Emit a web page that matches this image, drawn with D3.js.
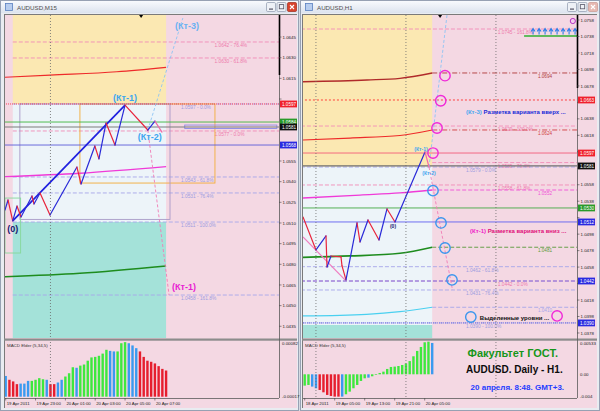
<!DOCTYPE html>
<html><head><meta charset="utf-8">
<script src="https://cdnjs.cloudflare.com/ajax/libs/d3/7.8.5/d3.min.js"></script>
<style>
html,body{margin:0;padding:0;background:#d6dae2;}
svg{display:block;font-family:"Liberation Sans",Arial,sans-serif;}
</style></head><body>
<svg id="chart" width="600" height="411"></svg>
<script>
// ===================== DATA : left window, AUDUSD M15 =====================
const m15Title = "AUDUSD,M15";
const m15TimeTicks  = [0, 8, 16, 24, 32, 40];
const m15TimeLabels = ["19 Apr 2011","19 Apr 23:00","20 Apr 01:00","20 Apr 03:00","20 Apr 05:00","20 Apr 07:00"];
const m15DaySeparators = [12];
const m15PriceTicks = [1.0645,1.0630,1.0615,1.0600,1.0555,1.0540,1.0525,1.0510,1.0495,1.0480,1.0465,1.0450,1.0435];
const m15MacdTicks = [0.00082,-0.00017];
const m15MacdTickText = ["0.00082","-0.00017"];
const m15Macd = [0.00021,0.00014,0.00011,0.00006,0.00007,0.00007,0.00012,0.00012,0.00014,0.00017,0.00015,0.00014,0.00006,0.00006,0.00009,0.00014,0.00020,0.00026,0.00037,0.00036,0.00040,0.00042,0.00049,0.00055,0.00056,0.00058,0.00062,0.00069,0.00067,0.00066,0.00066,0.00081,0.00083,0.00081,0.00077,0.00072,0.00066,0.00056,0.00049,0.00047,0.00044,0.00039,0.00034,0.00031];
const m15MacdState = "brrrbbbggggbrrbbgggbggggggggbbgggbbbrrrrrrrr";
// zigzag price path [bar index, price]
const m15Path = [[-0.19,1.05194],[0.62,1.05267],[1.88,1.05115],[3.03,1.05223],[4.10,1.05144],[7.05,1.05296],[7.59,1.05238],[9.20,1.05318],[11.88,1.05158],[19.1,1.05506],[20.2,1.05383],[23.9,1.05659],[25.0,1.05565],[26.9,1.05826],[29.3,1.05666],[32.0,1.05956],[38.1,1.05775],[40.0,1.05840],[41.9,1.05760]];
const m15ZeroKt1Kt2 = [2, 15, 16];
const m15MaRed     = [[-0.2,1.06158],[11.9,1.06174],[29.8,1.06198],[43,1.06230]];
const m15MaMagenta = [[-0.2,1.05436],[19.9,1.05461],[43,1.05509]];
const m15MaGreen   = [[-0.2,1.04710],[19.9,1.04735],[43,1.04788]];
const m15FiboPink     = [1.06414,1.06298,1.05768];
const m15FiboPinkText = ["1.0642 - 76.4%","1.0630 - 61.8%","1.0577 - 0.0%"];
const m15FiboLilac     = [1.05964,1.05434,1.05318,1.05107,1.04577];
const m15FiboLilacText = ["1.0597 - 0.0%","1.0543 - 61.8%","1.0531 - 76.4%","1.0511 - 100.0%","1.0458 - 161.8%"];
const m15Lines     = [1.05964,1.05833,1.05797,1.05666];
const m15LineText  = ["1.0597","1.0584","1.0581","1.0568"];
const m15Zones = [[1.9,43,1.0661,1.05964],[1.9,43,1.05964,1.05107],[1.9,43,1.05107,1.04265]];
const m15Boxes = [[19.9,56.1,1.05964,1.05390],[3.8,44.05,1.05964,1.05126],[-0.2,4.0,1.05281,1.04882],[48,72.7,1.05811,1.05786]];
const m15Projections = [[47.5,1.06588],[43.8,1.04577]];
const m15Notes   = ["(Кт-3)","(Кт-1)"];
const m15NoteAt  = [[48.6,1.0653],[47.8,1.04636]];

// ===================== DATA : right window, AUDUSD H1 =====================
const h1Title = "AUDUSD,H1";
const h1TimeTicks  = [0, 8, 16, 24, 32];
const h1TimeLabels = ["18 Apr 2011","19 Apr 05:00","19 Apr 13:00","19 Apr 21:00","20 Apr 05:00"];
const h1DaySeparators = [3, 27, 51];
const h1PriceTicks = [1.0758,1.0738,1.0718,1.0698,1.0678,1.0658,1.0638,1.0618,1.0598,1.0578,1.0558,1.0538,1.0518,1.0498,1.0478,1.0458,1.0438,1.0418,1.0398,1.0378];
const h1MacdTicks = [0.00533,0,-0.004];
const h1MacdTickText = ["0.00533","0.00","-0.004"];
const h1Macd = [-0.00189,-0.00178,-0.00205,-0.00233,-0.00261,-0.00300,-0.00344,-0.00361,-0.00372,-0.00372,-0.00372,-0.00333,-0.00289,-0.00233,-0.00178,-0.00111,-0.00067,-0.00056,-0.00033,-0.00011,0.00022,0.00044,0.00089,0.00122,0.00128,0.00138,0.00155,0.00180,0.00220,0.00300,0.00389,0.00455,0.00533,0.00544,0.00522];
const h1MacdState = "ggbbrrrrrrbggggggbggggggggggggggggb";
const h1Path = [[-0.45,1.05188],[3.01,1.04788],[5.68,1.04958],[5.95,1.04581],[7.01,1.04715],[9.68,1.04703],[9.95,1.04594],[11.01,1.04424],[13.95,1.05116],[14.75,1.04885],[16.88,1.05152],[19.81,1.04909],[21.95,1.05286],[24.08,1.05128],[32.08,1.05978],[33.15,1.05795]];
const h1ZeroKt1Kt2 = [13, 14, 15];
const h1TrendPink = [[-0.45,1.04946],[10.75,1.04424]];
const h1MaDarkRed = [[-0.45,1.06831],[16.6,1.06852],[25.4,1.06872],[34,1.06937]];
const h1MaRed     = [[-0.45,1.06123],[12.1,1.06147],[25.4,1.06178],[34,1.06245]];
const h1MaMagenta = [[-0.45,1.05419],[14.75,1.05455],[25.4,1.05480],[34,1.05516]];
const h1MaGreen   = [[-0.45,1.04699],[12.1,1.04715],[25.4,1.04748],[34,1.04821]];
const h1MaCyan    = [[-0.45,1.03987],[16.5,1.04007],[25.4,1.04039],[34,1.04092]];
const h1MaEndText = ["1.0694","1.0624","1.0552","1.0481","1.0410"];
const h1FiboPink     = [1.07471,1.06293,1.05849,1.05577,1.04411];
const h1FiboPinkText = ["1.0745 - 161.8%","1.0629 - 100.0%","1.0585 - 76.4%","1.0558 - 61.8%","1.0442 - 0.0%"];
const h1FiboLilac     = [1.05795,1.04585,1.04302,1.03902];
const h1FiboLilacText = ["1.0579 - 0.0%","1.0462 - 61.8%","1.0431 - 76.4%","1.0390 - 100.0%"];
const h1Lines    = [1.06609,1.05965,1.05808,1.05298,1.05128,1.04411,1.03902];
const h1LineText = ["1.0663","1.0597","1.0581","1.0530","1.0512","1.0442","1.0390"];
const h1Zones = [[-0.45,34,1.07641,1.05800],[-0.45,34,1.05800,1.03877],[-0.45,34,1.03877,1.03719]];
const h1CirclesUp   = [[37.41,1.06904],[36.27,1.06600],[35.28,1.06269],[34.21,1.05965]];
const h1CirclesDown = [[34.21,1.05508],[36.35,1.05116],[37.41,1.04812],[39.28,1.04424]];
const h1Projections = [[37.95,1.07641],[39.41,1.04302]];
const h1TargetLevel = 1.07386;
const h1TargetSpan  = [58.5, 73];
const h1TargetArrows = [60.9,62.5,64.1,65.7,67.3,68.9,70.5,72.1];
const h1Notes = ["Разметка варианта вверх ...","Разметка варианта вниз ...","Выделенные уровни ..."];
const h1NoteTags = ["(Кт-3) ","(Кт-1) ",""];
const h1NoteAt = [[43,1.06463],[44.1,1.05018],[46.7,1.03962]];
const h1LegendCircles = [[44.3,1.03974],[67.3,1.03987]];
const h1Caption = ["Факультет ГОСТ.","AUDUSD. Daily - H1.","20 апреля. 8:48. GMT+3."];
const h1CaptionAt = [[55.5,0.00355],[55.9,0.00088],[56.7,-0.00212]];

// ===================== DRAWING =====================
const svg = d3.select("#chart");
const defs = svg.append("defs");
const tg = defs.append("linearGradient").attr("id","gTitle").attr("x1",0).attr("y1",0).attr("x2",0).attr("y2",1);
tg.append("stop").attr("offset",0).attr("stop-color","#f8fafd");
tg.append("stop").attr("offset",1).attr("stop-color","#dce3ee");

const COL = {up:"#2a2ad8", down:"#e8243c", pink:"#f06aa8", g:"#3ee83e", r:"#e61e2e", b:"#3a9af0",
  fibPink:"#f28cb8", fibLilac:"#a6a6ea", kt:"#3ea6f0", mag:"#f020c8"};
const BG = {pink:"#f4d8e3", yellow:"#fbe8b2", light:"#edf4f9", teal:"#a4e2d9"};

function frame(wx, ww, title, active){
  const g = svg.append("g");
  g.append("rect").attr("x",wx+0.5).attr("y",0.5).attr("width",ww-1).attr("height",410).attr("fill","#e9ecf1").attr("stroke","#97a1b3");
  g.append("rect").attr("x",wx+1).attr("y",1).attr("width",ww-2).attr("height",12).attr("fill","url(#gTitle)");
  g.append("rect").attr("x",wx+5.5).attr("y",3.5).attr("width",7).attr("height",7).attr("fill","#b7cdef").attr("stroke","#5a80c0").attr("stroke-width",0.8);
  g.append("text").attr("x",wx+17).attr("y",9.6).attr("font-size",6.2).attr("fill","#505050").text(title);
  const bx = wx+ww-33;
  [0,1,2].forEach(k=>{
    const x = bx + k*10.5;
    const close = k===2;
    g.append("rect").attr("x",x+0.5).attr("y",2.5).attr("width",9).attr("height",9).attr("rx",1.2)
      .attr("fill", close ? (active?"#d9442e":"#e7b9b2") : "#eef1f6").attr("stroke", close?(active?"#9c2a1a":"#c89890"):"#8c98ac").attr("stroke-width",0.7);
    if(k===0) g.append("rect").attr("x",x+3).attr("y",8.5).attr("width",4).attr("height",1.2).attr("fill","#556");
    if(k===1) g.append("rect").attr("x",x+2.8).attr("y",4.6).attr("width",4.4).attr("height",4.2).attr("fill","none").attr("stroke","#556").attr("stroke-width",0.8);
    if(close){ g.append("path").attr("d",`M${x+3},${5} L${x+7},${9} M${x+7},${5} L${x+3},${9}`).attr("stroke","#fff").attr("stroke-width",1.1); }
  });
  return g;
}

function chart(c){
  const X = c.x, Y = c.y, M = c.m;
  const g = svg.append("g");
  g.append("rect").attr("x",c.cl).attr("y",14).attr("width",c.cr-c.cl).attr("height",394).attr("fill",BG.pink);
  g.append("line").attr("x1",c.cl+0.5).attr("x2",c.cl+0.5).attr("y1",14).attr("y2",408).attr("stroke","#7a7a7a");
  g.append("line").attr("x1",c.cl).attr("x2",c.cr).attr("y1",14.5).attr("y2",14.5).attr("stroke","#7a7a7a");
  const idm = "cm"+c.id, ids = "cs"+c.id;
  defs.append("clipPath").attr("id",idm).append("rect").attr("x",c.pl).attr("y",15).attr("width",c.pr-c.pl).attr("height",323);
  defs.append("clipPath").attr("id",ids).append("rect").attr("x",c.pl).attr("y",341).attr("width",c.pr-c.pl).attr("height",57);
  const m = g.append("g").attr("clip-path",`url(#${idm})`);
  const s = g.append("g").attr("clip-path",`url(#${ids})`);
  const zf = [BG.yellow, BG.light, BG.teal];
  m.selectAll(null).data(c.zones).join("rect")
    .attr("x",d=>X(d[0])).attr("width",d=>X(d[1])-X(d[0]))
    .attr("y",d=>Y(d[2])).attr("height",d=>Y(d[3])-Y(d[2])).attr("fill",(d,i)=>zf[i]);
  c.days.forEach(d=>{
    g.append("line").attr("x1",X(d)).attr("x2",X(d)).attr("y1",15).attr("y2",398).attr("stroke","#6a6a6a").attr("stroke-dasharray","1,2").attr("stroke-width",0.8);
  });
  g.append("rect").attr("x",c.cl).attr("y",338.5).attr("width",c.cr-c.cl).attr("height",2.2).attr("fill","#8c8c8c");
  g.append("line").attr("x1",c.pr+0.5).attr("x2",c.pr+0.5).attr("y1",15).attr("y2",398).attr("stroke","#5a5a5a").attr("stroke-width",0.8);
  g.append("line").attr("x1",c.pr+0.5).attr("x2",c.pr+0.5).attr("y1",15).attr("y2",c.blackTo).attr("stroke","#000").attr("stroke-width",1.6);
  g.append("line").attr("x1",c.pl).attr("x2",c.pr).attr("y1",398.5).attr("y2",398.5).attr("stroke","#5a5a5a").attr("stroke-width",0.8);
  c.ticks.forEach(p=>{
    g.append("line").attr("x1",c.pr).attr("x2",c.pr+2.5).attr("y1",Y(p)).attr("y2",Y(p)).attr("stroke","#444").attr("stroke-width",0.6);
    const clash = c.boxLevels.some(b=>Math.abs(Y(b)-Y(p))<5.5);
    if(!clash) g.append("text").attr("x",c.pr+3.5).attr("y",Y(p)+1.6).attr("font-size",4.4).attr("fill","#222").text(p.toFixed(4));
  });
  c.tTicks.forEach((t,i)=>{
    g.append("line").attr("x1",X(t)).attr("x2",X(t)).attr("y1",398).attr("y2",400.5).attr("stroke","#444").attr("stroke-width",0.6);
    g.append("text").attr("x",X(t)+1).attr("y",405).attr("font-size",4.3).attr("fill","#222").text(c.tLabels[i]);
  });
  s.selectAll(null).data(c.macd).join("rect")
    .attr("x",(d,i)=>X(i)-1.2).attr("width",2.4)
    .attr("y",d=>Math.min(M(d),M(c.mBase))).attr("height",d=>Math.abs(M(d)-M(c.mBase)))
    .attr("fill",(d,i)=>COL[c.mState[i]]);
  g.append("text").attr("x",c.pl+2).attr("y",347).attr("font-size",4.4).attr("fill","#333").text("MACD Elder (5,34,5)");
  c.mTicks.forEach((v,i)=>{
    g.append("text").attr("x",c.pr+3).attr("y",Math.min(Math.max(M(v)+1.6,345),398)).attr("font-size",4.4).attr("fill","#222").text(c.mTickText[i]);
  });
  g.append("path").attr("d",`M${X(c.shift)-2},15 L${X(c.shift)+2},15 L${X(c.shift)},18 Z`).attr("fill","#000");
  return {g, m, s};
}

function hline(m, X, Y, p, i0, i1, color, dash, w){
  m.append("line").attr("x1",X(i0)).attr("x2",X(i1)).attr("y1",Y(p)).attr("y2",Y(p))
    .attr("stroke",color).attr("stroke-width",w||0.9).attr("stroke-dasharray",dash||null);
}
function pathSegs(m, X, Y, pts, pinkFrom){
  for(let k=0;k<pts.length-1;k++){
    const a=pts[k], b=pts[k+1];
    let col = b[1]>a[1] ? COL.up : COL.down;
    if(k>=pinkFrom) col = COL.pink;
    m.append("line").attr("x1",X(a[0])).attr("y1",Y(a[1])).attr("x2",X(b[0])).attr("y2",Y(b[1]))
      .attr("stroke",col).attr("stroke-width",1.2).attr("stroke-linecap","round");
  }
}
function axisBox(g, x0, Y, p, txt, fill){
  g.append("rect").attr("x",x0+1).attr("y",Y(p)-3.4).attr("width",17).attr("height",6.8).attr("fill",fill);
  g.append("text").attr("x",x0+3).attr("y",Y(p)+1.7).attr("font-size",4.6).attr("fill","#fff").text(txt);
}

// ---------- left window ----------
frame(0, 299, m15Title, true);
const xL = d3.scaleLinear().domain([0,73.3]).range([5.7,279.1]);
const yL = d3.scaleLinear().domain([1.04265,1.06610]).range([338,15]);
const mL = d3.scaleLinear().domain([-0.00017,0.00082]).range([396.7,342.7]);
const L = chart({id:"L", x:xL, y:yL, m:mL, cl:4, cr:297, pl:5, pr:279, blackTo:75,
  zones:m15Zones, days:m15DaySeparators, ticks:m15PriceTicks, tTicks:m15TimeTicks, tLabels:m15TimeLabels, boxLevels:m15Lines,
  macd:m15Macd, mState:m15MacdState, mBase:-0.00017, mTicks:m15MacdTicks, mTickText:m15MacdTickText, shift:36.3});
{
  const m = L.m, X = xL, Y = yL;
  const ma = d3.line().x(d=>X(d[0])).y(d=>Y(d[1])).curve(d3.curveMonotoneX);
  m15FiboPink.forEach((p,i)=>{ hline(m,X,Y,p,1.9,74,COL.fibPink,"4,2");
    m.append("text").attr("x",X(56)).attr("y",Y(p)+5).attr("font-size",4.8).attr("fill","#ee78ac").text(m15FiboPinkText[i]); });
  m15FiboLilac.forEach((p,i)=>{ hline(m,X,Y,p,1.9,74,COL.fibLilac,"4,2");
    m.append("text").attr("x",X(47)).attr("y",Y(p)+5).attr("font-size",4.8).attr("fill","#9c9ce0").text(m15FiboLilacText[i]); });
  const bc = ["#f2ad3a","#a89ac8","#86d89a","#8a8ae8"];
  m15Boxes.forEach((b,i)=>{
    m.append("rect").attr("x",X(b[0])).attr("y",Y(b[2])).attr("width",X(b[1])-X(b[0])).attr("height",Y(b[3])-Y(b[2]))
      .attr("fill","none").attr("stroke",bc[i]).attr("stroke-width",0.9);
  });
  m.append("path").attr("d",ma(m15MaRed)).attr("fill","none").attr("stroke","#ee2a2a").attr("stroke-width",1.2);
  m.append("path").attr("d",ma(m15MaMagenta)).attr("fill","none").attr("stroke","#f03ad8").attr("stroke-width",1.3);
  m.append("path").attr("d",ma(m15MaGreen)).attr("fill","none").attr("stroke","#1e8c1e").attr("stroke-width",1.6);
  const lc = ["#ff2a48","#3cb43c","#7c7c7c","#5a5ad8"], ld = ["1,1",null,null,null];
  m15Lines.forEach((p,i)=> hline(m,X,Y,p,-1,74,lc[i],ld[i],i===2?1.2:0.9));
  const kt2 = m15Path[m15ZeroKt1Kt2[2]];
  m.append("line").attr("x1",X(kt2[0])).attr("y1",Y(kt2[1])).attr("x2",X(m15Projections[0][0])).attr("y2",Y(m15Projections[0][1])).attr("stroke","#8cc4f4").attr("stroke-width",0.9).attr("stroke-dasharray","3,2");
  m.append("line").attr("x1",X(kt2[0])).attr("y1",Y(kt2[1])).attr("x2",X(m15Projections[1][0])).attr("y2",Y(m15Projections[1][1])).attr("stroke","#f07cb4").attr("stroke-width",0.9).attr("stroke-dasharray","3,2");
  const z = m15Path[m15ZeroKt1Kt2[0]], k1 = m15Path[m15ZeroKt1Kt2[1]];
  m.append("line").attr("x1",X(z[0])).attr("y1",Y(z[1])).attr("x2",X(k1[0])).attr("y2",Y(k1[1])).attr("stroke","#2020e0").attr("stroke-width",1.7);
  pathSegs(m,X,Y,m15Path,17);
  const t = (x,y,txt,col,fs)=>m.append("text").attr("x",x).attr("y",y).attr("text-anchor","middle").attr("font-size",fs).attr("font-weight","bold").attr("fill",col).text(txt);
  t(X(k1[0]),Y(k1[1])-4,"(Кт-1)",COL.kt,9);
  t(X(kt2[0])+2,Y(kt2[1])+10,"(Кт-2)",COL.kt,9);
  t(X(z[0]),Y(z[1])+11,"(0)","#1a1a70",9);
  t(X(m15NoteAt[0][0]),Y(m15NoteAt[0][1])+3,m15Notes[0],"#6ab2f2",9);
  t(X(m15NoteAt[1][0]),Y(m15NoteAt[1][1])+3,m15Notes[1],"#e81ed2",9);
  const bf = ["#f0202c","#2a9a2a","#101010","#2a2ae0"];
  m15Lines.forEach((p,i)=>axisBox(L.g,279,Y,p,m15LineText[i],bf[i]));
}

// ---------- right window ----------
frame(300, 300, h1Title, false);
const xR = d3.scaleLinear().domain([0,73]).range([304.7,578.45]);
const yR = d3.scaleLinear().domain([1.03719,1.07641]).range([338,15]);
const mR = d3.scaleLinear().domain([-0.004,0.00533]).range([398.3,342.3]);
const R = chart({id:"R", x:xR, y:yR, m:mR, cl:302, cr:597, pl:303, pr:577, blackTo:88,
  zones:h1Zones, days:h1DaySeparators, ticks:h1PriceTicks, tTicks:h1TimeTicks, tLabels:h1TimeLabels, boxLevels:h1Lines,
  macd:h1Macd, mState:h1MacdState, mBase:0, mTicks:h1MacdTicks, mTickText:h1MacdTickText, shift:36.1});
{
  const m = R.m, X = xR, Y = yR;
  const ma = d3.line().x(d=>X(d[0])).y(d=>Y(d[1])).curve(d3.curveMonotoneX);
  h1FiboPink.forEach((p,i)=>{ hline(m,X,Y,p,i===2?34:-1,74,COL.fibPink,"4,2");
    m.append("text").attr("x",X(51.5)).attr("y",Y(p)+5).attr("font-size",4.8).attr("fill","#ee78ac").text(h1FiboPinkText[i]); });
  h1FiboLilac.forEach((p,i)=>{ hline(m,X,Y,p,-1,74,COL.fibLilac,"4,2");
    m.append("text").attr("x",X(43)).attr("y",Y(p)+5).attr("font-size",4.8).attr("fill","#9c9ce0").text(h1FiboLilacText[i]); });
  const lc = ["#ff3030","#f25a78","#707070","#44aa44","#6060f0","#6a6ae8","#5a5ae0"];
  const ld = ["2,2",null,null,null,null,"4,2","1,1"];
  h1Lines.forEach((p,i)=>hline(m,X,Y,p,-1,74,lc[i],ld[i],i===2?1.3:0.9));
  const mas = [h1MaDarkRed,h1MaRed,h1MaMagenta,h1MaGreen,h1MaCyan];
  const mc = ["#b02a2a","#ee2a2a","#f03ad8","#1e8c1e","#4ad0f0"], mw=[1.4,1.2,1.3,1.7,1.2];
  const ec = ["#b03a3a","#d04040","#f050d8","#5a9a3a","#a6a6ea"], ed=["5,2,1,2","5,2,1,2","4,2","4,2","4,2"];
  mas.forEach((a,i)=>{
    m.append("path").attr("d",ma(a)).attr("fill","none").attr("stroke",mc[i]).attr("stroke-width",mw[i]);
    const e = a[a.length-1];
    hline(m,X,Y,e[1],e[0],74,ec[i],ed[i],0.9);
    m.append("text").attr("x",X(62.2)).attr("y",Y(e[1])+5).attr("font-size",4.6).attr("fill",ec[i]).text(h1MaEndText[i]);
  });
  hline(m,X,Y,h1TargetLevel,h1TargetSpan[0],h1TargetSpan[1],"#30b030",null,1.4);
  h1TargetArrows.forEach(i=>{
    const x=X(i), y=Y(h1TargetLevel)-1.5;
    m.append("path").attr("d",`M${x},${y} L${x},${y-5} M${x-2},${y-3} L${x},${y-6} L${x+2},${y-3}`).attr("stroke","#2e7ee8").attr("stroke-width",1.1).attr("fill","none");
  });
  m.append("circle").attr("cx",X(71.5)).attr("cy",Y(1.07568)).attr("r",2.6).attr("fill","#f4d0ee").attr("stroke","#b020c0").attr("stroke-width",0.9);
  m.append("line").attr("x1",X(h1TrendPink[0][0])).attr("y1",Y(h1TrendPink[0][1])).attr("x2",X(h1TrendPink[1][0])).attr("y2",Y(h1TrendPink[1][1])).attr("stroke","#f07cc0").attr("stroke-width",1.2);
  const kt2 = h1Path[h1ZeroKt1Kt2[2]], k1 = h1Path[h1ZeroKt1Kt2[1]], z = h1Path[h1ZeroKt1Kt2[0]];
  m.append("line").attr("x1",X(kt2[0])).attr("y1",Y(kt2[1])).attr("x2",X(h1Projections[0][0])).attr("y2",Y(h1Projections[0][1])).attr("stroke","#8cc4f4").attr("stroke-width",0.9).attr("stroke-dasharray","3,2");
  m.append("line").attr("x1",X(kt2[0])).attr("y1",Y(kt2[1])).attr("x2",X(h1Projections[1][0])).attr("y2",Y(h1Projections[1][1])).attr("stroke","#f07cb4").attr("stroke-width",0.9).attr("stroke-dasharray","3,2");
  pathSegs(m,X,Y,h1Path,14);
  h1CirclesUp.forEach(d=>m.append("circle").attr("cx",X(d[0])).attr("cy",Y(d[1])).attr("r",5.2).attr("fill","none").attr("stroke","#f028d8").attr("stroke-width",1.4));
  h1CirclesDown.forEach(d=>m.append("circle").attr("cx",X(d[0])).attr("cy",Y(d[1])).attr("r",5.2).attr("fill","none").attr("stroke","#3a96ee").attr("stroke-width",1.4));
  m.append("circle").attr("cx",X(h1LegendCircles[0][0])).attr("cy",Y(h1LegendCircles[0][1])).attr("r",5.2).attr("fill","none").attr("stroke","#3a96ee").attr("stroke-width",1.4);
  m.append("circle").attr("cx",X(h1LegendCircles[1][0])).attr("cy",Y(h1LegendCircles[1][1])).attr("r",5.2).attr("fill","none").attr("stroke","#f028d8").attr("stroke-width",1.4);
  const t = (x,y,txt,col,fs,anchor)=>m.append("text").attr("x",x).attr("y",y).attr("text-anchor",anchor||"middle").attr("font-size",fs).attr("font-weight","bold").attr("fill",col).text(txt);
  t(X(k1[0])-4,Y(k1[1])-1,"(Кт-1)",COL.kt,5);
  t(X(kt2[0]),Y(kt2[1])+8,"(Кт-2)",COL.kt,5);
  t(X(z[0])-2,Y(z[1])+6,"(0)","#1a1a70",5);
  const tagCol = ["#4aa6f0","#f020c8",""], noteCol = ["#1a2ad8","#e0107a","#101010"];
  h1Notes.forEach((n,i)=>{
    const tx = m.append("text").attr("x",X(h1NoteAt[i][0])).attr("y",Y(h1NoteAt[i][1])+2).attr("font-size",6).attr("font-weight","bold");
    tx.append("tspan").attr("fill",tagCol[i]).text(h1NoteTags[i]);
    tx.append("tspan").attr("fill",noteCol[i]).text(n);
  });
  const cf = [11,10,8], cc = ["#16961a","#0c0c0c","#1f3cff"];
  h1Caption.forEach((c,i)=>{
    R.g.append("text").attr("x",xR(h1CaptionAt[i][0])).attr("y",mR(h1CaptionAt[i][1])+cf[i]*0.36).attr("text-anchor","middle")
      .attr("font-size",cf[i]).attr("font-weight","bold").attr("fill",cc[i]).text(c);
  });
  const bf = ["#f0202c","#f0202c","#101010","#2a9a2a","#2a2ae0","#2a2ae0","#2a2ae0"];
  h1Lines.forEach((p,i)=>axisBox(R.g,577,Y,p,h1LineText[i],bf[i]));
}
</script></body></html>
